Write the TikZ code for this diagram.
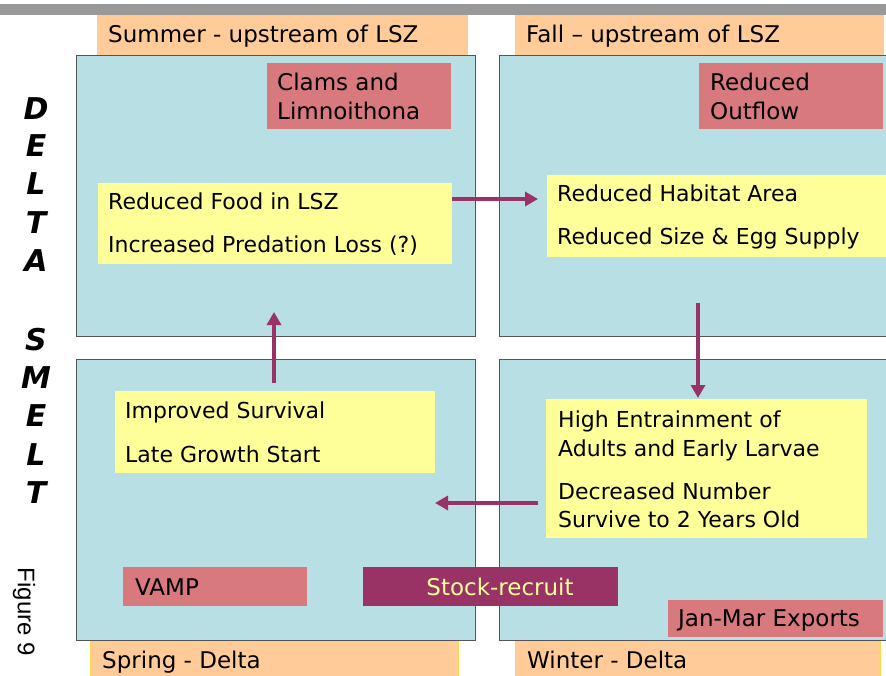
\documentclass[tikz,border=0pt]{standalone}
\usepackage{fontspec}
\setmainfont{DejaVu Sans}
\newfontfamily\figfont{Liberation Sans}
\usetikzlibrary{arrows.meta}
\definecolor{panelblue}{HTML}{B8DFE3}
\definecolor{orangebox}{HTML}{FFCC99}
\definecolor{orangeedge}{HTML}{FFD84A}
\definecolor{pinkbox}{HTML}{D8797E}
\definecolor{yellowbox}{HTML}{FFFF99}
\definecolor{stockbox}{HTML}{993366}
\definecolor{arrowcol}{HTML}{993366}
\definecolor{bargray}{HTML}{999999}
\definecolor{stocktext}{HTML}{FFFF99}
\definecolor{paneledge}{HTML}{555555}
\begin{document}
\begin{tikzpicture}[x=1pt,y=-1pt,
  box/.style={anchor=north west, inner sep=0pt, outer sep=0pt},
  panel/.style={box, fill=panelblue, draw=paneledge, line width=0.8pt},
  season/.style={box, fill=orangebox, draw=orangeedge, line width=0.6pt},
  driver/.style={box, fill=pinkbox},
  effect/.style={box, fill=yellowbox},
  stockstyle/.style={box, fill=stockbox},
  lbl/.style={anchor=base west, inner sep=0pt, font=\fontsize{23}{26}\selectfont, text=black},
  txt/.style={anchor=base west, inner sep=0pt, font=\fontsize{22}{24}\selectfont, text=black},
  smelt/.style={anchor=center, inner sep=0pt, font=\fontsize{30}{30}\selectfont\bfseries\itshape},
  flow/.style={draw=arrowcol, line width=4pt, -{Triangle[length=13pt,width=14pt]}}
]
\clip (0,0) rectangle (886,676);
\fill[white] (0,0) rectangle (886,676);

% top gray bar
\node[box, fill=bargray, minimum width=886pt, minimum height=11pt] (bar) at (0,4) {};

% season labels
\node[season, minimum width=370pt, minimum height=40pt] (summer) at (97,15) {};
\node[season, minimum width=368pt, minimum height=40pt] (fall) at (515,15) {};
\node[season, minimum width=368pt, minimum height=40pt] (spring) at (90,640) {};
\node[season, minimum width=365pt, minimum height=40pt] (winter) at (515,640) {};

% panels
\node[panel, minimum width=399pt, minimum height=281pt] (ptl) at (76,55) {};
\node[panel, minimum width=395pt, minimum height=281pt] (ptr) at (499,55) {};
\node[panel, minimum width=399pt, minimum height=281pt] (pbl) at (76,359) {};
\node[panel, minimum width=395pt, minimum height=281pt] (pbr) at (499,359) {};

% drivers
\node[driver, minimum width=184pt, minimum height=66pt] (clams) at (267,63) {};
\node[driver, minimum width=184pt, minimum height=66pt] (outflow) at (699,63) {};
\node[driver, minimum width=184pt, minimum height=39pt] (vamp) at (123,567) {};
\node[driver, minimum width=215pt, minimum height=37pt] (exports) at (668,600) {};
\node[stockstyle, minimum width=255pt, minimum height=39pt] (stock) at (363,567) {};

% effects
\node[effect, minimum width=354pt, minimum height=81pt] (y1) at (98,183) {};
\node[effect, minimum width=342pt, minimum height=82pt] (y2) at (547,175) {};
\node[effect, minimum width=320pt, minimum height=82pt] (y3) at (115,391) {};
\node[effect, minimum width=321pt, minimum height=139pt] (y4) at (546,399) {};

% texts
\node[lbl] (tsummer) at (108,43) {Summer - upstream of LSZ};
\node[lbl] (tfall) at (526,43) {Fall – upstream of LSZ};
\node[lbl] (tspring) at (102,668) {Spring - Delta};
\node[lbl] (twinter) at (527,668) {Winter - Delta};

\node[lbl] (tclams1) at (277,91) {Clams and};
\node[lbl] (tclams2) at (277,120) {Limnoithona};
\node[lbl] (tout1) at (710,91) {Reduced};
\node[lbl] (tout2) at (710,120) {Outflow};
\node[lbl] (tvamp) at (135,595) {VAMP};
\node[lbl, anchor=base, text=stocktext] (tstock) at (500,595) {Stock-recruit};
\node[lbl] (texp) at (678,626) {Jan-Mar Exports};

\node[txt] (t11) at (108,210) {Reduced Food in LSZ};
\node[txt] (t12) at (108,253) {Increased Predation Loss (?)};
\node[txt] (t21) at (557,202) {Reduced Habitat Area};
\node[txt] (t22) at (557,245) {Reduced Size \& Egg Supply};
\node[txt] (t31) at (125,418) {Improved Survival};
\node[txt] (t32) at (125,462) {Late Growth Start};
\node[txt] (t41) at (558,427) {High Entrainment of};
\node[txt] (t42) at (558,456) {Adults and Early Larvae};
\node[txt] (t43) at (558,499) {Decreased Number};
\node[txt] (t44) at (558,527) {Survive to 2 Years Old};

% DELTA SMELT
\node[smelt] (d1) at (36,109) {D};
\node[smelt] (d2) at (36,146) {E};
\node[smelt] (d3) at (36,184) {L};
\node[smelt] (d4) at (36,223) {T};
\node[smelt] (d5) at (36,261) {A};
\node[smelt] (s1) at (36,340) {S};
\node[smelt] (s2) at (36,378) {M};
\node[smelt] (s3) at (36,416) {E};
\node[smelt] (s4) at (36,455) {L};
\node[smelt] (s5) at (36,493) {T};

% Figure 9
\node[inner sep=0pt, rotate=-90, font=\figfont\fontsize{24}{26}\selectfont] (fig) at (24,612) {Figure 9};

% arrows
\coordinate (a1s) at (452,199);
\coordinate (a1e) at (538,199);
\coordinate (a2s) at (698,303);
\coordinate (a2e) at (698,398);
\coordinate (a3s) at (538,503);
\coordinate (a3e) at (435,503);
\coordinate (a4s) at (274,383);
\coordinate (a4e) at (274,312);
\draw[flow] (a1s) -- (a1e);
\draw[flow] (a2s) -- (a2e);
\draw[flow] (a3s) -- (a3e);
\draw[flow] (a4s) -- (a4e);
\end{tikzpicture}
\end{document}
